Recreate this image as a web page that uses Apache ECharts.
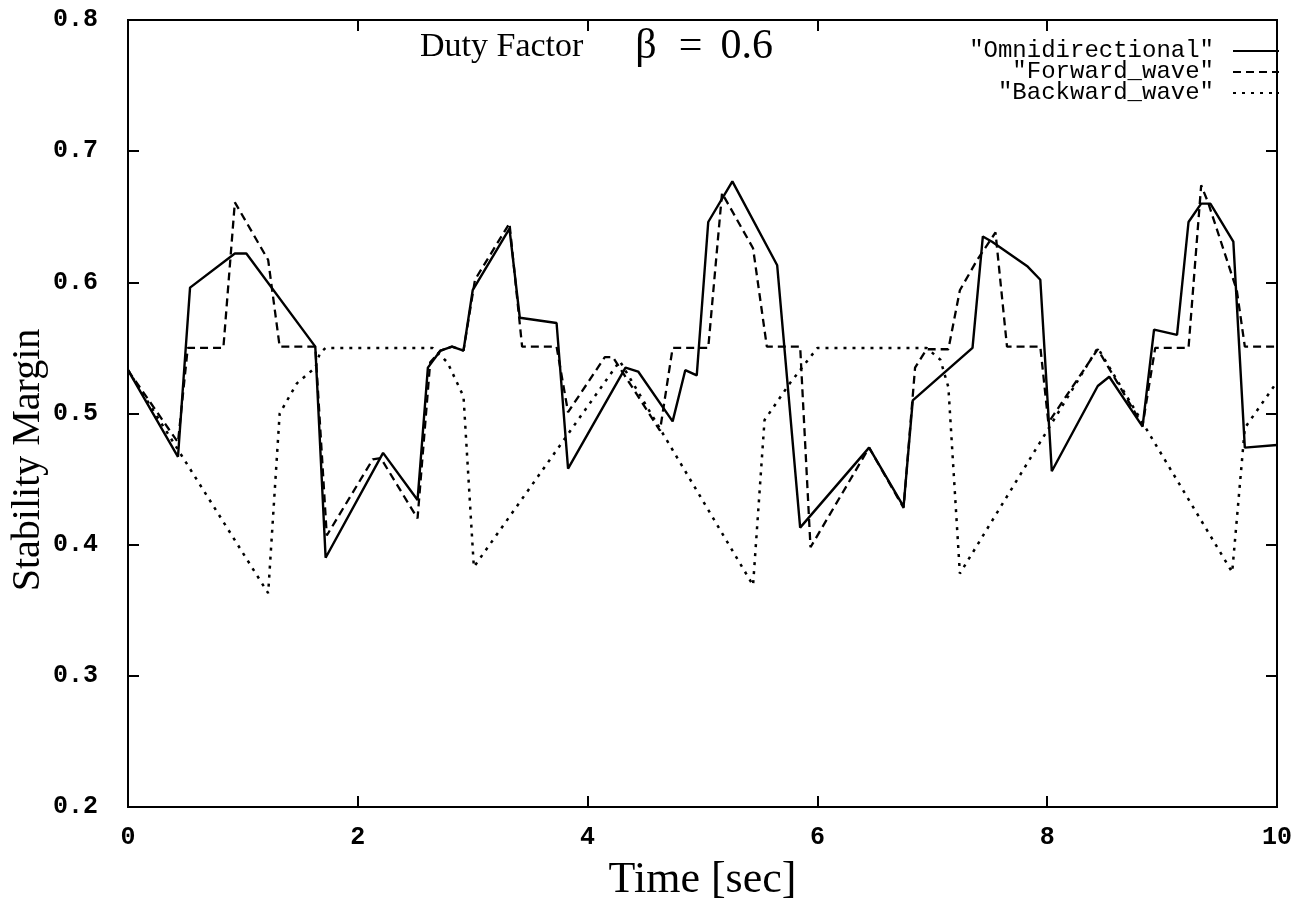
<!DOCTYPE html>
<html>
<head>
<meta charset="utf-8">
<script src="https://cdn.jsdelivr.net/npm/echarts@6/dist/echarts.min.js"></script>
<style>
html,body{margin:0;padding:0;background:#fff;}
#c{width:1305px;height:901px;}
</style>
</head>
<body>
<div id="c"></div>
<script>
// ---- data ----
var omniT = [0,0.435,0.54,0.93,1.03,1.63,1.72,2.22,2.52,2.61,2.72,2.82,2.92,3.0,3.32,3.41,3.73,3.83,4.33,4.44,4.74,4.85,4.95,5.05,5.26,5.65,5.85,6.45,6.75,6.83,7.35,7.44,7.52,7.83,7.94,8.04,8.44,8.54,8.83,8.93,9.13,9.23,9.34,9.42,9.62,9.72,10];
var omniV = [0.533,0.467,0.596,0.622,0.622,0.551,0.39,0.47,0.434,0.535,0.548,0.551,0.548,0.594,0.641,0.573,0.569,0.458,0.535,0.532,0.494,0.533,0.529,0.646,0.677,0.613,0.413,0.474,0.429,0.51,0.55,0.635,0.631,0.612,0.602,0.456,0.521,0.528,0.49,0.564,0.56,0.646,0.66,0.66,0.631,0.474,0.476];

var fwdT = [0,0.435,0.52,0.83,0.93,1.22,1.32,1.63,1.73,2.13,2.2,2.52,2.63,2.72,2.82,2.92,3.02,3.32,3.43,3.73,3.83,4.15,4.22,4.63,4.74,5.05,5.17,5.44,5.56,5.85,5.94,6.45,6.75,6.85,6.95,7.14,7.24,7.39,7.55,7.65,7.94,8.01,8.44,8.83,8.94,9.23,9.34,9.4,9.65,9.72,10];
var fwdV = [0.533,0.478,0.55,0.55,0.661,0.617,0.551,0.551,0.407,0.465,0.466,0.42,0.539,0.548,0.551,0.548,0.602,0.645,0.551,0.551,0.501,0.543,0.543,0.487,0.55,0.55,0.668,0.626,0.551,0.551,0.398,0.474,0.428,0.535,0.549,0.549,0.594,0.617,0.638,0.551,0.551,0.493,0.549,0.491,0.55,0.55,0.674,0.661,0.594,0.551,0.551];

var bwdT = [0,1.22,1.32,1.47,1.63,1.67,1.72,2.65,2.78,2.92,3.01,4.28,5.44,5.54,5.76,6.0,6.95,7.07,7.14,7.24,8.44,9.61,9.72,10];
var bwdV = [0.533,0.363,0.5,0.523,0.535,0.546,0.55,0.55,0.539,0.513,0.383,0.54,0.369,0.495,0.523,0.55,0.55,0.541,0.52,0.378,0.55,0.379,0.489,0.524];

var seriesNames = ['Omnidirectional','Forward_wave','Backward_wave'];
var xTicks = [0,2,4,6,8,10];
var yTicks = [0.2,0.3,0.4,0.5,0.6,0.7,0.8];
var titleMain = 'Duty Factor';
var titleBeta = '\u03b2';
var titleEq = '=';
var titleVal = '0.6';
var xName = 'Time [sec]';
var yName = 'Stability Margin';

function pairs(t, v){ return t.map(function(x,i){ return [x, v[i]]; }); }

var chart = echarts.init(document.getElementById('c'), null, {renderer:'canvas'});
var mono = 'Liberation Mono';
var serif = 'Liberation Serif';
var tickLabel = {fontFamily:mono, fontSize:25, fontWeight:'bold', color:'#000'};
var axLine = {show:true, onZero:false, lineStyle:{color:'#000', width:2}};
var axTick = {show:true, inside:true, length:11, lineStyle:{color:'#000', width:2}};

var option = {
  backgroundColor:'#fff',
  animation:false,
  title:{
    text:'{a|' + titleMain + '}{b|' + titleBeta + '}{c|' + titleEq + '}{d|' + titleVal + '}',
    left:415, top:21,
    textStyle:{
      fontFamily:serif, fontSize:34, fontWeight:'normal', color:'#000',
      rich:{
        a:{fontFamily:serif, fontSize:34, color:'#000'},
        b:{fontFamily:serif, fontSize:42, color:'#000', padding:[0,0,0,52]},
        c:{fontFamily:serif, fontSize:42, color:'#000', padding:[0,0,0,22]},
        d:{fontFamily:serif, fontSize:42, color:'#000', padding:[0,0,0,18]}
      }
    }
  },
  legend:{
    orient:'vertical', right:20, top:34, align:'right',
    itemWidth:46, itemHeight:14, itemGap:-3,
    itemStyle:{opacity:0},
    textStyle:{fontFamily:mono, fontSize:24, color:'#000', lineHeight:21, height:21, padding:[0,14,0,0]},
    formatter:function(n){ return '"' + n + '"'; },
    data:seriesNames
  },
  grid:{left:128, right:28, top:20, bottom:94, show:true, borderColor:'#000', borderWidth:2,
        backgroundColor:'transparent', containLabel:false, outerBoundsMode:'none'},
  xAxis:[{
    type:'value', min:0, max:10, interval:2, position:'bottom',
    axisLine:axLine, axisTick:axTick,
    axisLabel:Object.assign({margin:18, formatter:function(v){return String(v);}}, tickLabel),
    splitLine:{show:false},
    name:xName, nameLocation:'middle', nameGap:51,
    nameTextStyle:{fontFamily:serif, fontSize:44, color:'#000'}
  },{
    type:'value', min:0, max:10, interval:2, position:'top',
    axisLine:axLine, axisTick:axTick,
    axisLabel:{show:false}, splitLine:{show:false}
  }],
  yAxis:[{
    type:'value', min:0.2, max:0.8, interval:0.1, position:'left',
    axisLine:axLine, axisTick:axTick,
    axisLabel:Object.assign({margin:30, formatter:function(v){return v.toFixed(1);}}, tickLabel),
    splitLine:{show:false}
  },{
    type:'value', min:0.2, max:0.8, interval:0.1, position:'right',
    axisLine:axLine, axisTick:axTick,
    axisLabel:{show:false}, splitLine:{show:false}
  }],
  graphic:[{
    type:'text', x:28, y:460, rotation:Math.PI/2,
    style:{text:yName, fontFamily:serif, fontSize:40, fill:'#000', align:'center', verticalAlign:'middle'}
  }],
  series:[
    {name:seriesNames[0], type:'line', data:pairs(omniT,omniV), symbol:'none',
     lineStyle:{color:'#000', width:2.4, type:'solid'}, itemStyle:{color:'#000'}},
    {name:seriesNames[1], type:'line', data:pairs(fwdT,fwdV), symbol:'none',
     lineStyle:{color:'#000', width:2.3, type:[8,5]}, itemStyle:{color:'#000'}},
    {name:seriesNames[2], type:'line', data:pairs(bwdT,bwdV), symbol:'none',
     lineStyle:{color:'#000', width:2.5, type:[3,6]}, itemStyle:{color:'#000'}}
  ]
};
chart.setOption(option);
</script>
</body>
</html>
